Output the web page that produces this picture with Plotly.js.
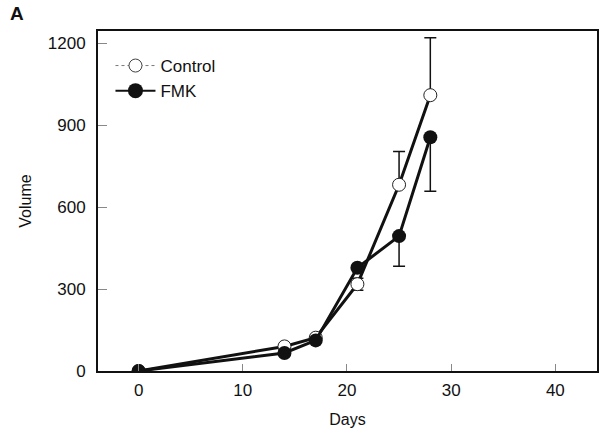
<!DOCTYPE html>
<html><head><meta charset="utf-8">
<script src="https://cdn.plot.ly/plotly-3.0.1.min.js"></script>
<style>html,body{margin:0;padding:0;background:#fff}#c{width:603px;height:432px}</style>
</head><body><div id="c"></div>
<script>
const days = [0, 14, 17, 21, 25, 28];
const controlVol = [0, 90, 122, 318, 682, 1010];
const controlErrUp = [0, 0, 0, 22, 122, 210];
const controlErrDown = [0, 0, 0, 22, 0, 0];
const fmkVol = [0, 66, 112, 378, 494, 856];
const fmkErrUp = [0, 0, 0, 0, 0, 0];
const fmkErrDown = [0, 0, 0, 0, 110, 198];
const seriesNames = ['Control', 'FMK'];
const yTicks = [0, 300, 600, 900, 1200];
const xTicks = [0, 10, 20, 30, 40];

const font = {family: 'Liberation Sans, Arial, sans-serif', color: '#111', size: 17};
const traces = [
  {x: days, y: controlVol, mode: 'lines+markers', showlegend: false,
   line: {color: '#111', width: 3},
   marker: {symbol: 'circle', size: 13, color: '#fff', line: {width: 1, color: '#222'}},
   error_y: {type: 'data', symmetric: false, array: controlErrUp, arrayminus: controlErrDown, color: '#111', thickness: 1.5, width: 6}},
  {x: days, y: fmkVol, mode: 'lines+markers', showlegend: false,
   line: {color: '#111', width: 3},
   marker: {symbol: 'circle', size: 14, color: '#111'},
   error_y: {type: 'data', symmetric: false, array: fmkErrUp, arrayminus: fmkErrDown, color: '#111', thickness: 1.5, width: 6}},
  {x: [null], y: [null], name: seriesNames[0], mode: 'lines+markers',
   line: {color: '#777', width: 1, dash: 'dot'},
   marker: {symbol: 'circle', size: 13, color: '#fff', line: {width: 1, color: '#444'}}},
  {x: [null], y: [null], name: seriesNames[1], mode: 'lines+markers',
   line: {color: '#111', width: 2},
   marker: {symbol: 'circle', size: 15, color: '#111'}}
];
const layout = {
  width: 603, height: 432,
  margin: {l: 98, r: 6, t: 31, b: 61},
  paper_bgcolor: '#fff', plot_bgcolor: '#fff',
  font: font,
  showlegend: true,
  legend: {x: 0.025, y: 0.95, xanchor: 'left', yanchor: 'top', bgcolor: 'rgba(0,0,0,0)',
           font: {family: font.family, size: 17, color: '#111'}, tracegroupgap: 6, itemwidth: 40},
  xaxis: {range: [-3.9, 44], tickvals: xTicks, ticktext: xTicks.map(String),
          ticks: 'inside', ticklen: 7, tickcolor: '#888', tickwidth: 1,
          showline: true, linecolor: '#111', linewidth: 2, mirror: true,
          showgrid: false, zeroline: false, ticklabelstandoff: 3,
          title: {text: 'Days', font: {size: 16, color: '#111'}, standoff: 14}},
  yaxis: {range: [0, 1245], tickvals: yTicks, ticktext: yTicks.map(String),
          ticks: 'inside', ticklen: 9, tickcolor: '#888', tickwidth: 1,
          showline: true, linecolor: '#111', linewidth: 2, mirror: true,
          showgrid: false, zeroline: false, ticklabelstandoff: 7,
          title: {text: 'Volume', font: {size: 16, color: '#111'}, standoff: 12}},
  annotations: [{text: '<b>A</b>', xref: 'paper', yref: 'paper', x: -0.18, y: 1.05,
                 xanchor: 'left', yanchor: 'middle', showarrow: false,
                 font: {size: 19, color: '#111', family: font.family}}]
};
Plotly.newPlot('c', traces, layout, {displayModeBar: false, staticPlot: true});
</script></body></html>
